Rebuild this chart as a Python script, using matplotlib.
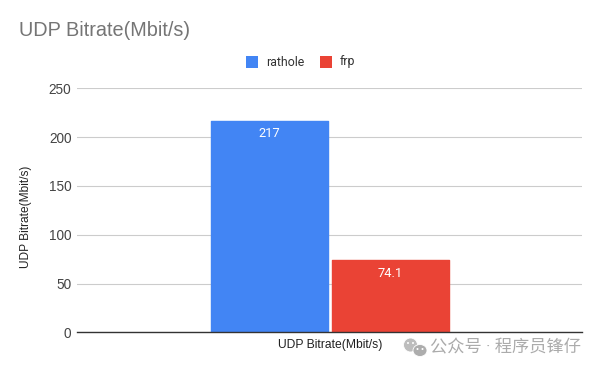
import matplotlib
matplotlib.use("Agg")
import matplotlib.pyplot as plt
from matplotlib.patches import Rectangle, Ellipse

plt.rcParams['font.family'] = ['Roboto', 'Noto Sans CJK SC', 'DejaVu Sans']

title = "UDP Bitrate(Mbit/s)"
series = ["rathole", "frp"]
values = [217, 74.1]
labels = ["217", "74.1"]
colors = ["#4285F4", "#EA4335"]
yticks = [0, 50, 100, 150, 200, 250]
xlabel = "UDP Bitrate(Mbit/s)"
ylabel = "UDP Bitrate(Mbit/s)"
watermark = "公众号 · 程序员锋仔"

W, H = 600, 371
fig = plt.figure(figsize=(W/100, H/100), dpi=100)
ax = fig.add_axes([77/W, 1-332.4/H, (582-77)/W, (332.4-88.4)/H])
ax.set_xlim(77, 582)
ax.set_ylim(0, 250)
for s, v, c, x0, x1, lab in zip(series, values, colors, [210, 331], [329, 450], labels):
    ax.bar((x0+x1)/2, v, width=x1-x0-1.4, color=c, ec=c, lw=1.0, joinstyle='round', zorder=3, label=s)
    ax.annotate(lab, ((x0+x1)/2, v), xytext=(0, -9.5), textcoords='offset points',
                ha='center', va='center', color='white', fontsize=9.3, zorder=4)
ax.set_yticks(yticks)
ax.set_xticks([])
ax.grid(axis='y', color='#CCCCCC', lw=0.8, zorder=0)
for k in ['top', 'right', 'left']:
    ax.spines[k].set_visible(False)
ax.spines['bottom'].set_color('#333333')
ax.spines['bottom'].set_linewidth(1)
ax.spines['bottom'].set_zorder(5)
ax.tick_params(axis='y', length=0, labelsize=9.8, labelcolor='#444444', pad=4)
for t in ax.get_yticklabels():
    t.set_family(['Liberation Sans'])
fig.text(330/W, 1-345/H, xlabel, ha='center', va='center', fontsize=8.7, color='#222222', family=['Liberation Sans'])
fig.text(26/W, 1-216.5/H, ylabel, ha='center', va='center', rotation=90, fontsize=8.6, color='#222222', family=['Liberation Sans'])
fig.text(19/W, 1-31/H, title, ha='left', va='center', fontsize=14.3, color='#757575', family=['Liberation Sans'])

# legend
for x, c, s, tx in [(246, colors[0], series[0], 266), (320, colors[1], series[1], 340)]:
    fig.add_artist(Rectangle((x/W, 1-68/H), 12/W, 12/H, transform=fig.transFigure, fc=c, ec='none'))
    fig.text(tx/W, 1-62/H, s, ha='left', va='center', fontsize=8.9, color='#333333')

# watermark icon
for cx, cy, rx, ry, col in [(410.5, 345, 7, 7, '#BDBDBD'), (420, 350.5, 7, 6, '#ADADAD')]:
    fig.add_artist(Ellipse((cx/W, 1-cy/H), 2*rx/W, 2*ry/H, transform=fig.transFigure, fc=col, ec='white', lw=0.6))
for cx, cy in [(408, 343), (413, 343), (417.5, 349), (422.5, 349)]:
    fig.add_artist(Ellipse((cx/W, 1-cy/H), 2/W, 2/H, transform=fig.transFigure, fc='white', ec='none'))
fig.text(430.5/W, 1-347/H, watermark, ha='left', va='center', fontsize=12.4, color='#ABABAB')
fig.savefig("out.png", dpi=100)
